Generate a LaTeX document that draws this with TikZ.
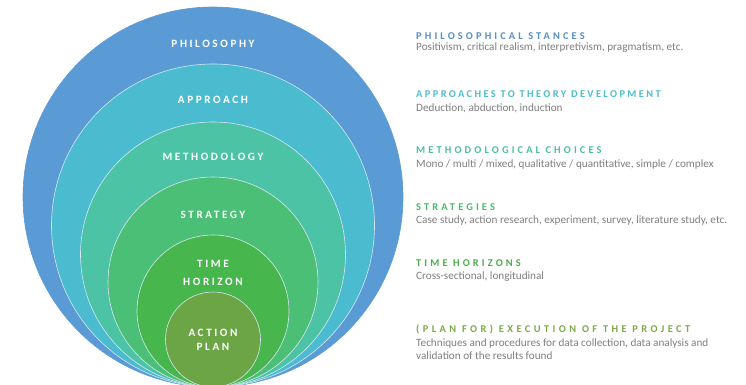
\documentclass[tikz,border=0pt]{standalone}
\usepackage{fontspec}
\setmainfont{Carlito}
\newfontfamily\circfont[LetterSpace=23]{Carlito}
\newfontfamily\headfont[LetterSpace=30]{Carlito}
\newfontfamily\headfonttight[LetterSpace=23]{Carlito}
\newfontfamily\headfontwide[LetterSpace=33]{Carlito}
\definecolor{cPhil}{HTML}{5B9BD5}
\definecolor{cAppr}{HTML}{4BBBCF}
\definecolor{cMeth}{HTML}{4DC3A6}
\definecolor{cStra}{HTML}{4CBF77}
\definecolor{cTime}{HTML}{47B64C}
\definecolor{cAct}{HTML}{6CA545}
\definecolor{hPhil}{HTML}{5A8DC4}
\definecolor{hAppr}{HTML}{4CBDCB}
\definecolor{hMeth}{HTML}{4DBEA0}
\definecolor{hStra}{HTML}{4DB86A}
\definecolor{hTime}{HTML}{4DAC50}
\definecolor{hAct}{HTML}{7CAA46}
\definecolor{bodygrey}{HTML}{7F7F7F}
\tikzset{
  ring/.style={draw=white!75!cPhil, line width=0.6pt},
  clabel/.style={text=white, font=\circfont\bfseries\fontsize{11.2}{13}\selectfont, inner sep=0pt, anchor=center},
  head/.style={anchor=west, inner sep=0pt, font=\headfont\bfseries\fontsize{10.4}{12}\selectfont},
  body/.style={anchor=west, inner sep=0pt, text=bodygrey, font=\fontsize{11.2}{13}\selectfont, align=left}
}
\begin{document}
\begin{tikzpicture}[x=1pt,y=-1pt]
\clip (0,0) rectangle (746,385);
\useasboundingbox (0,0) rectangle (746,385);
\fill[white] (0,0) rectangle (746,385);
% nested circles, all tangent at bottom
\filldraw[ring, fill=cPhil, draw=cPhil] (213,197) circle (190pt);
\filldraw[ring, fill=cAppr] (213,225.5) circle (161.5pt);
\filldraw[ring, fill=cMeth] (213,254.5) circle (132.5pt);
\filldraw[ring, fill=cStra] (213,282) circle (105pt);
\filldraw[ring, fill=cTime] (213,311) circle (76pt);
\filldraw[ring, fill=cAct] (213,339.5) circle (47.5pt);
% circle labels
\node[clabel] (lphil) at (213,44) {PHILOSOPHY};
\node[clabel] (lappr) at (213,100) {APPROACH};
\node[clabel] (lmeth) at (213,157) {METHODOLOGY};
\node[clabel] (lstra) at (213,215) {STRATEGY};
\node[clabel] (ltime) at (213,264) {TIME};
\node[clabel] (lhor) at (213,282) {HORIZON};
\node[clabel] (lact) at (213,333) {ACTION};
\node[clabel] (lplan) at (213,347) {PLAN};
% right-hand descriptions
\node[head, text=hPhil] (h1) at (416,36) {PHILOSOPHICAL STANCES};
\node[body] (b1) at (416,48) {Positivism, critical realism, interpretivism, pragmatism, etc.};
\node[head, text=hAppr, font=\headfonttight\bfseries\fontsize{10.4}{12}\selectfont] (h2) at (416,94) {APPROACHES TO THEORY DEVELOPMENT};
\node[body] (b2) at (416,108) {Deduction, abduction, induction};
\node[head, text=hMeth] (h3) at (416,150) {METHODOLOGICAL CHOICES};
\node[body] (b3) at (416,165) {Mono / multi / mixed, qualitative / quantitative, simple / complex};
\node[head, text=hStra] (h4) at (416,207) {STRATEGIES};
\node[body] (b4) at (416,221) {Case study, action research, experiment, survey, literature study, etc.};
\node[head, text=hTime] (h5) at (416,263) {TIME HORIZONS};
\node[body] (b5) at (416,277) {Cross-sectional, longitudinal};
\node[head, text=hAct, font=\headfontwide\bfseries\fontsize{10.4}{12}\selectfont] (h6) at (416,329) {(PLAN FOR) EXECUTION OF THE PROJECT};
\node[body] (b6) at (416,349.5) {Techniques and procedures for data collection, data analysis and\\validation of the results found};
\end{tikzpicture}
\end{document}
